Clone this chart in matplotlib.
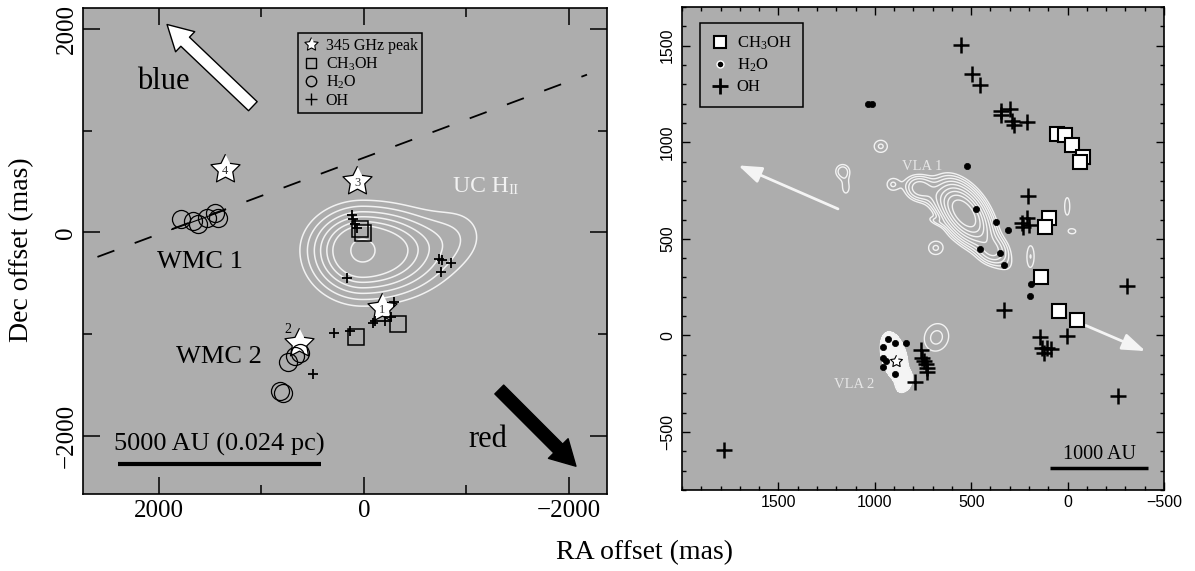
import numpy as np
import matplotlib.pyplot as plt
from matplotlib.lines import Line2D

plt.rcParams['font.family'] = 'Liberation Serif'
plt.rcParams['mathtext.fontset'] = 'custom'
plt.rcParams['mathtext.rm'] = 'Liberation Serif'
plt.rcParams['mathtext.it'] = 'Liberation Serif:italic'

BG = '#adadad'
WHITE_LINE = '#f2f2f2'

# ---------------- left panel (offsets in mas) ----------------
peak_ra = [-172, 631, 65, 1356]
peak_dec = [-740, -1084, 504, 626]
peak_id = ['1', '2', '3', '4']

ch3oh_ra_l = [40, 10, 81, -329]
ch3oh_dec_l = [30, -10, -1029, -897]

h2o_ra_l = [1785, 1665, 1616, 1535, 1454, 1421, 624, 673, 738, 820, 787]
h2o_dec_l = [135, 111, 88, 144, 187, 144, -1183, -1215, -1275, -1560, -1576]

oh_ra_l = [120, 104, 88, 71, 169, -732, -758, -846, -751, -295,
           -91, -107, -205, -262, 290, 137, 500]
oh_dec_l = [167, 128, 79, 46, -445, -256, -272, -298, -390, -680,
            -887, -872, -872, -830, -986, -970, -1389]

# UC HII region: centre, outer extents (left/right/top/bottom) and bump
uchii_center = (13, -177)
uchii_extent = {'left': 612, 'right': 930, 'top': 494, 'bottom': 547}
uchii_rho = [1.0, 0.88, 0.77, 0.67, 0.57, 0.47]
uchii_core_sigma = 90
uchii_core_radius = 115
uchii_bump = (-950, 20, 230, 0.11)

outflow_axis_ra = [2600, -2176]
outflow_axis_dec = [-240, 1551]
wmc1_line_ra = [1876, 1356]
wmc1_line_dec = [29, 219]
blue_tail, blue_head = (1084, 1241), (1921, 2044)
red_tail, red_head = (-1320, -1543), (-2068, -2297)
scale_l_ra = [2397, 422]
scale_l_dec = [-2273, -2273]

# ---------------- right panel (offsets in mas) ----------------
ch3oh_ra_r = [57, 16, -24, -81, -64, 97, 119, 138, 45, -50]
ch3oh_dec_r = [1043, 1036, 987, 922, 898, 608, 562, 300, 126, 78]

h2o_ra_r = [1035, 1017, 521, 477, 369, 309, 456, 351, 328, 192, 193,
            934, 895, 836, 960, 960, 943, 960, 895]
h2o_dec_r = [1198, 1198, 875, 655, 588, 548, 448, 427, 367, 268, 203,
             -21, -41, -41, -60, -115, -133, -162, -202]

oh_ra_r = [554, 494, 454, 347, 299, 344, 287, 278, 209, 204, 209, 235, 200,
           230, 330, -309, 2, 143, 131, 105, 123, 88, -261, 762, 753, 744,
           736, 727, 731, 791, 1781]
oh_dec_r = [1501, 1353, 1294, 1160, 1174, 1143, 1112, 1091, 1105, 720, 608,
            583, 574, 562, 134, 255, -4, -7, -64, -64, -89, -69, -314, -76,
            -115, -133, -150, -167, -190, -241, -593]

vla2_star = (891, -133)

# continuum components: ra, dec, sigma_major, sigma_minor, angle, amplitude
vla1_comps = [
    (538, 636, 95, 55, 55, 1.0),
    (770, 763, 45, 40, 0, 0.17),
    (660, 700, 120, 40, 30, 0.09),
    (430, 500, 130, 45, 50, 0.15),
    (390, 436, 45, 40, 0, 0.13),
    (969, 979, 35, 32, 0, 0.08),
    (1167, 849, 30, 30, 0, 0.10),
    (1150, 765, 22, 38, 0, 0.065),
    (908, 781, 30, 30, 0, 0.075),
    (684, 453, 38, 35, 0, 0.08),
    (684, 591, 35, 14, 20, 0.06),
    (192, 410, 20, 60, 0, 0.075),
    (2, 668, 16, 55, 0, 0.07),
    (-24, 539, 25, 17, 0, 0.065),
    (680, -10, 60, 70, 20, 0.085),
]
vla1_levels = [0.05, 0.075, 0.11, 0.16, 0.23, 0.33, 0.45, 0.6, 0.8]
vla2_comps = [
    (900, -110, 42, 85, -15, 1.0),
    (845, -245, 25, 40, 30, 0.55),
]

arrow_nw = ((1191, 655), (1708, 880))
arrow_se = ((-93, 52), (-404, -81))
scale_r_ra = [89, -415]
scale_r_dec = [-684, -684]

# star marker with a fat body
_a = np.deg2rad(90 + np.arange(10) * 36)
_r = np.where(np.arange(10) % 2 == 0, 1.0, 0.5)
STAR = np.column_stack([_r * np.cos(_a), _r * np.sin(_a)])


def gauss_field(X, Y, comps):
    Z = np.zeros_like(X)
    for ra, dec, sa, sb, ang, amp in comps:
        t = np.deg2rad(ang)
        dx, dy = X - ra, Y - dec
        a = dx * np.cos(t) + dy * np.sin(t)
        b = -dx * np.sin(t) + dy * np.cos(t)
        Z += amp * np.exp(-0.5 * ((a / sa) ** 2 + (b / sb) ** 2))
    return Z


def uchii_field(X, Y):
    u = X - uchii_center[0]
    v = Y - uchii_center[1]
    su = np.where(u > 0, uchii_extent['left'], uchii_extent['right'])
    sv = np.where(v > 0, uchii_extent['top'], uchii_extent['bottom'])
    rho2 = (u / su) ** 2 + (v / sv) ** 2
    Z = np.exp(-2 * rho2)
    Z += np.exp(-(u ** 2 + v ** 2) / (2 * uchii_core_sigma ** 2))
    bx, by, bs, ba = uchii_bump
    Z += ba * np.exp(-((X - bx) ** 2 + (Y - by) ** 2) / (2 * bs ** 2))
    return Z


def style_axes(ax):
    ax.set_facecolor(BG)
    for s in ax.spines.values():
        s.set_linewidth(1.2)
        s.set_color('black')


fig = plt.figure(figsize=(11.95, 5.71), dpi=100)
fig.patch.set_facecolor('white')

# ======================= LEFT PANEL =======================
ax1 = fig.add_axes([83 / 1195, 1 - 494 / 571, 524 / 1195, 486 / 571])
style_axes(ax1)

gx, gy = np.meshgrid(np.arange(-2400, 2760, 8.0), np.arange(-2600, 2260, 8.0))
gz = uchii_field(gx, gy)
lev = sorted(np.exp(-2 * np.array(uchii_rho) ** 2))
core_lev = np.exp(-2 * (uchii_core_radius / uchii_extent['left']) ** 2) + \
    np.exp(-uchii_core_radius ** 2 / (2 * uchii_core_sigma ** 2))
ax1.contour(gx, gy, gz, levels=lev + [core_lev], colors=WHITE_LINE,
            linewidths=1.1, zorder=2)

ax1.plot(outflow_axis_ra, outflow_axis_dec, color='black', lw=1.3,
         ls=(0, (10, 12)), zorder=2)
ax1.plot(wmc1_line_ra, wmc1_line_dec, color='black', lw=0.8, zorder=3)

ax1.plot(h2o_ra_l, h2o_dec_l, ls='none', marker='o', ms=13, mfc='none',
         mec='black', mew=0.9, zorder=5)
ax1.plot(ch3oh_ra_l, ch3oh_dec_l, ls='none', marker='s', ms=11.5, mfc='none',
         mec='black', mew=1.1, zorder=5)
ax1.plot(oh_ra_l, oh_dec_l, ls='none', marker='+', ms=7, mec='black',
         mew=1.3, zorder=5)
ax1.plot(peak_ra, peak_dec, ls='none', marker=STAR, ms=22, mfc='white',
         mec='black', mew=0.9, zorder=4)
for ra, dec, lab in zip(peak_ra, peak_dec, peak_id):
    if lab == '2':
        ax1.text(745, -953, lab, ha='center', va='center', fontsize=10, zorder=6)
    else:
        ax1.text(ra, dec - 20, lab, ha='center', va='center', fontsize=9,
                 color='#333333', zorder=6)

ax1.annotate('', xy=blue_head, xytext=blue_tail,
             arrowprops=dict(arrowstyle='simple,head_length=0.9,head_width=1.0,tail_width=0.45',
                             mutation_scale=20, fc='white', ec='black', lw=1.0,
                             shrinkA=0, shrinkB=0), zorder=5)
ax1.annotate('', xy=red_head, xytext=red_tail,
             arrowprops=dict(arrowstyle='simple,head_length=0.9,head_width=1.0,tail_width=0.45',
                             mutation_scale=20, fc='black', ec='black', lw=1.0,
                             shrinkA=0, shrinkB=0), zorder=5)

ax1.text(1955, 1487, 'blue', ha='center', va='center', fontsize=22)
ax1.text(-1210, -2034, 'red', ha='center', va='center', fontsize=22)
ax1.text(1600, -295, 'WMC 1', ha='center', va='center', fontsize=19)
ax1.text(1415, -1228, 'WMC 2', ha='center', va='center', fontsize=19)
t_uc = ax1.text(-868, 344, 'UC H', ha='left', va='bottom', fontsize=17,
                color=WHITE_LINE)
ax1.annotate('II', xy=(1, 0), xycoords=t_uc, ha='left', va='bottom',
             fontsize=11, color=WHITE_LINE)

ax1.plot(scale_l_ra, scale_l_dec, color='black', lw=3, solid_capstyle='butt')
ax1.text(np.mean(scale_l_ra), -2084, '5000 AU (0.024 pc)', ha='center',
         va='center', fontsize=19)

leg1 = ax1.legend(
    [Line2D([], [], ls='none', marker=STAR, ms=10, mfc='white', mec='black', mew=0.8),
     Line2D([], [], ls='none', marker='s', ms=7, mfc='none', mec='black', mew=1.0),
     Line2D([], [], ls='none', marker='o', ms=7.5, mfc='none', mec='black', mew=1.0),
     Line2D([], [], ls='none', marker='+', ms=8, mec='black', mew=1.0)],
    ['345 GHz peak', 'CH$_\\mathrm{3}$OH', 'H$_\\mathrm{2}$O', 'OH'],
    loc='upper left', bbox_to_anchor=(0.411, 0.948), borderaxespad=0,
    fontsize=11.5, handlelength=1.0, handletextpad=0.4, labelspacing=0.08,
    borderpad=0.3, fancybox=False, framealpha=1, facecolor=BG, edgecolor='black')
leg1.get_frame().set_linewidth(1.1)

ax1.set_xlim(2741, -2371)
ax1.set_ylim(-2570, 2206)
ax1.set_xticks([2000, 0, -2000])
ax1.set_xticks([1000, -1000], minor=True)
ax1.set_yticks([2000, 0, -2000])
ax1.set_yticks([1000, -1000], minor=True)
ax1.tick_params(which='both', direction='in', top=True, right=True, width=1.1)
ax1.tick_params(which='major', length=12, labelsize=18, pad=4)
ax1.tick_params(which='minor', length=6.5)
ax1.tick_params(axis='y', labelrotation=90)
for t in ax1.get_yticklabels():
    t.set_verticalalignment('center')

# ======================= RIGHT PANEL =======================
ax2 = fig.add_axes([682 / 1195, 1 - 490 / 571, 482 / 1195, 483 / 571])
style_axes(ax2)

hx, hy = np.meshgrid(np.arange(-500, 2005, 4.0), np.arange(-800, 1705, 4.0))
ax2.contour(hx, hy, gauss_field(hx, hy, vla1_comps), levels=vla1_levels,
            colors=WHITE_LINE, linewidths=1.0, zorder=2)
z2 = gauss_field(hx, hy, vla2_comps)
ax2.contourf(hx, hy, z2, levels=[0.3, 10], colors=['#f4f4f4'], zorder=2)
ax2.contour(hx, hy, z2, levels=[0.3], colors=WHITE_LINE, linewidths=1.0, zorder=2)

for tail, head in (arrow_nw, arrow_se):
    ax2.annotate('', xy=head, xytext=tail,
                 arrowprops=dict(arrowstyle='-|>,head_length=0.7,head_width=0.25',
                                 mutation_scale=20, color='#f4f4f4', lw=2,
                                 shrinkA=0, shrinkB=0), zorder=3)

ax2.plot(h2o_ra_r, h2o_dec_r, ls='none', marker='o', ms=4.5, mfc='black',
         mec='black', mew=0.5, zorder=4)
ax2.plot(ch3oh_ra_r, ch3oh_dec_r, ls='none', marker='s', ms=9.5, mfc='white',
         mec='black', mew=1.5, zorder=5)
ax2.plot(oh_ra_r, oh_dec_r, ls='none', marker='+', ms=11, mec='black',
         mew=1.8, zorder=5)
ax2.plot(*vla2_star, ls='none', marker=STAR, ms=9, mfc='white', mec='black',
         mew=0.8, zorder=6)

ax2.text(753, 875, 'VLA 1', ha='center', va='center', fontsize=10.5,
         color='#e6e6e6')
ax2.text(1107, -253, 'VLA 2', ha='center', va='center', fontsize=10.5,
         color='#e6e6e6')

ax2.plot(scale_r_ra, scale_r_dec, color='black', lw=2.5, solid_capstyle='butt')
ax2.text(np.mean(scale_r_ra), -615, '1000 AU', ha='center', va='center',
         fontsize=14.5)

leg2 = ax2.legend(
    [Line2D([], [], ls='none', marker='s', ms=9, mfc='white', mec='black', mew=1.5),
     Line2D([], [], ls='none', marker='o', ms=5, mfc='black', mec='white', mew=1.0),
     Line2D([], [], ls='none', marker='+', ms=11, mec='black', mew=2.0)],
    ['CH$_\\mathrm{3}$OH', 'H$_\\mathrm{2}$O', 'OH'],
    loc='upper left', bbox_to_anchor=(0.037, 0.967), borderaxespad=0,
    fontsize=12, handlelength=1.0, handletextpad=0.5, labelspacing=0.3,
    borderpad=0.7, fancybox=False, framealpha=1, facecolor=BG, edgecolor='black')
leg2.get_frame().set_linewidth(1.1)

ax2.set_xlim(2000, -500)
ax2.set_ylim(-800, 1700)
ax2.set_xticks([1500, 1000, 500, 0, -500])
ax2.set_xticks(np.arange(-500, 2001, 100), minor=True)
ax2.set_yticks([1500, 1000, 500, 0, -500])
ax2.set_yticks(np.arange(-800, 1701, 100), minor=True)
ax2.tick_params(which='both', direction='in', top=True, right=True, width=1.0)
ax2.tick_params(which='major', length=5.8, labelsize=11.5,
                labelfontfamily='Liberation Sans')
ax2.tick_params(which='minor', length=2.9)
ax2.tick_params(axis='x', pad=3.5)
ax2.tick_params(axis='y', pad=4.9, labelrotation=90)
for t in ax2.get_yticklabels():
    t.set_verticalalignment('center')

fig.text(22 / 1195, 1 - 250 / 571, 'Dec offset (mas)', rotation=90,
         ha='center', va='center', fontsize=20)
fig.text(645 / 1195, 1 - 553 / 571, 'RA offset (mas)', ha='center',
         va='center', fontsize=20)

fig.savefig('out.png', dpi=100)
